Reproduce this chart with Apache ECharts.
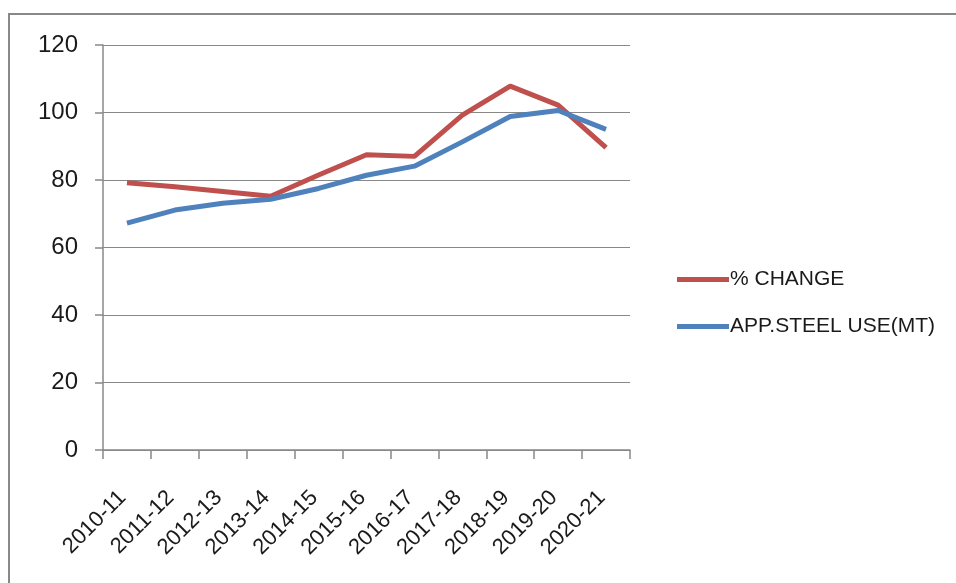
<!DOCTYPE html>
<html>
<head>
<meta charset="utf-8">
<style>
  html, body { margin: 0; padding: 0; background: #ffffff; }
  #chart { width: 956px; height: 583px; }
</style>
<script src="https://cdn.jsdelivr.net/npm/echarts@6/dist/echarts.min.js"></script>
</head>
<body>
<div id="chart"></div>
<script>
// Fiscal years on the category axis
const years = ['2010-11', '2011-12', '2012-13', '2013-14', '2014-15', '2015-16',
               '2016-17', '2017-18', '2018-19', '2019-20', '2020-21'];

// Series values
const pctChange = [79.2, 78.0, 76.6, 75.2, 81.5, 87.5, 87.0, 99.2, 107.8, 102.2, 89.6];
const steelUse  = [67.2, 71.1, 73.1, 74.3, 77.5, 81.4, 84.1, 91.3, 98.8, 100.6, 95.0];

// Value axis ticks
const yTicks = [0, 20, 40, 60, 80, 100, 120];

const FONT = '"Liberation Sans", Arial, sans-serif';
const GREY = '#888888';

const chart = echarts.init(document.getElementById('chart'), null, { renderer: 'canvas' });

chart.setOption({
  animation: false,
  backgroundColor: '#ffffff',
  graphic: [{
    type: 'rect',
    shape: { x: 9, y: 14, width: 1000, height: 700 },
    style: { fill: 'none', stroke: GREY, lineWidth: 2 },
    silent: true
  }],
  grid: { left: 103, right: 326, top: 45, bottom: 133, containLabel: false },
  legend: {
    orient: 'vertical',
    left: 672,
    top: 264,
    itemGap: 26,
    itemWidth: 52,
    itemHeight: 5,
    icon: 'rect',
    textStyle: { fontFamily: FONT, fontSize: 21, color: '#1a1a1a', padding: [0, 0, 0, -4] },
    data: ['% CHANGE', 'APP.STEEL USE(MT)']
  },
  xAxis: {
    type: 'category',
    data: years,
    boundaryGap: true,
    axisLine: { lineStyle: { color: GREY, width: 1.5 } },
    axisTick: { show: true, length: 9, alignWithLabel: false, lineStyle: { color: GREY, width: 1.5 } },
    axisLabel: {
      interval: 0,
      rotate: 45,
      margin: 40,
      fontFamily: FONT,
      fontSize: 22,
      color: '#1a1a1a',
      padding: [0, 6, 0, 0]
    },
    splitLine: { show: false }
  },
  yAxis: {
    type: 'value',
    min: yTicks[0],
    max: yTicks[yTicks.length - 1],
    interval: yTicks[1] - yTicks[0],
    axisLine: { show: true, lineStyle: { color: GREY, width: 1.5 } },
    axisTick: { show: true, length: 8, lineStyle: { color: GREY, width: 1.5 } },
    axisLabel: { margin: 25, fontFamily: FONT, fontSize: 24, color: '#1a1a1a' },
    splitLine: { show: true, lineStyle: { color: GREY, width: 1.2 } }
  },
  series: [
    {
      name: '% CHANGE',
      type: 'line',
      data: pctChange,
      symbol: 'none',
      color: '#C0504D',
      lineStyle: { width: 5, color: '#C0504D' }
    },
    {
      name: 'APP.STEEL USE(MT)',
      type: 'line',
      data: steelUse,
      symbol: 'none',
      color: '#4F81BD',
      lineStyle: { width: 5, color: '#4F81BD' }
    }
  ]
});
</script>
</body>
</html>
